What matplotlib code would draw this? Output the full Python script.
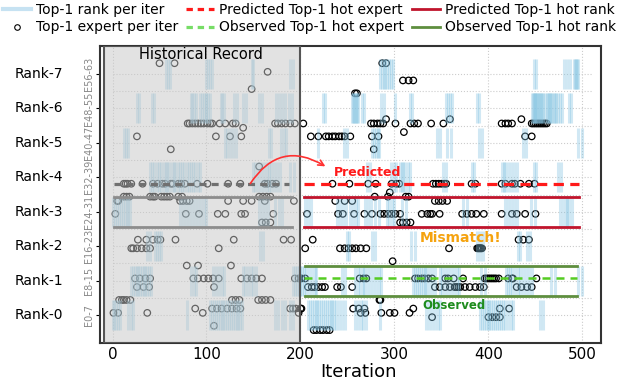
import matplotlib.pyplot as plt
from matplotlib.lines import Line2D
from matplotlib.patches import Rectangle

# top-1 expert per iteration: expert id and the iterations where it was top-1
expert_ids = [62, 60, 56, 58, 55, 49, 48, 47, 46, 45, 42, 38, 34, 32, 31, 30,
              27, 25, 21, 19, 16, 15, 12, 10, 7, 5, 4, 3, 1, 0]
expert_iters = [
    [50, 66, 287, 291],
    [165],
    [148],
    [309, 315, 320],
    [258, 260],
    [291, 359, 435],
    [80, 82, 85, 88, 91, 94, 97, 101, 104, 106, 114, 120, 128, 131, 173, 176, 180,
     184, 189, 194, 203, 275, 278, 282, 285, 288, 301, 317, 321, 325, 339, 352,
     414, 418, 421, 425, 446, 448, 450, 452, 454, 456, 458, 460, 462],
    [139],
    [310],
    [26, 110, 125, 137, 211, 219, 227, 230, 234, 237, 241, 244, 247, 253, 276, 283,
     439, 446],
    [62, 278],
    [156],
    [12, 14, 16, 20, 32, 43, 48, 53, 56, 62, 64, 70, 73, 77, 90, 101, 123, 136, 162,
     165, 170, 174, 234, 252, 272, 280, 297, 302, 305, 341, 344, 347, 350, 353, 355,
     382, 386, 414, 418, 425, 428, 434, 443, 449],
    [295],
    [12, 15, 18, 40, 43, 45, 52, 55, 58, 61, 70, 74, 156, 160, 164, 168, 279, 293,
     312, 315],
    [5, 6, 72, 75, 79, 82, 123, 139, 148, 162, 193, 237, 247, 255, 343, 347, 351, 356],
    [3, 78, 92, 112, 120, 137, 141, 171, 207, 240, 245, 257, 268, 276, 285, 289, 293,
     297, 301, 306, 329, 335, 338, 340, 348, 372, 377, 382, 387, 395, 414, 425, 430,
     439, 450],
    [159, 163, 168, 306, 309, 313, 317],
    [27, 36, 43, 48, 51, 67, 129, 182, 190, 213, 432, 437, 443],
    [20, 22, 26, 31, 36, 40, 113, 205, 242, 247, 251, 255, 259, 264, 270, 358, 388,
     389, 390, 391, 392, 393],
    [298],
    [79, 91, 126],
    [24, 29, 35, 40, 86, 91, 97, 102, 107, 113, 137, 143, 148, 153, 159, 194, 198,
     201, 205, 263, 267, 270, 322, 325, 329, 332, 336, 340, 354, 357, 363, 373, 396,
     398, 400, 402, 404, 406, 408, 411, 421, 425, 426, 451],
    [26, 33, 39, 108, 208, 212, 215, 219, 223, 226, 239, 243, 255, 343, 348, 354,
     359, 364, 366, 368, 370, 375, 380, 386, 391, 395, 430, 435, 441, 446],
    [7, 10, 12, 15, 19, 127, 131, 135, 155, 159, 163, 168, 284, 285],
    [88, 106, 111, 116, 122, 127, 132, 136, 189, 192, 195, 200, 201, 256, 262, 268,
     320, 412, 422],
    [1, 6, 37, 96, 198, 264, 269, 286, 295, 300, 316],
    [340, 400, 404, 408, 412],
    [108],
    [214, 217, 221, 224, 228, 231],
]

# top-1 rank per iteration (list index = rank)
rank_iters = [
    [0, 2, 4, 6, 8, 17, 20, 22, 79, 104, 106, 108, 110, 112, 114, 116, 118, 120, 122,
     124, 126, 128, 130, 132, 134, 136, 138, 173, 176, 180, 183, 189, 192, 208, 210,
     212, 214, 216, 218, 220, 222, 224, 226, 228, 230, 232, 234, 236, 238, 241, 244,
     247, 258, 261, 264, 267, 270, 285, 334, 337, 340, 343, 346, 348, 391, 393, 395,
     397, 399, 401, 403, 405, 407, 409, 411, 413, 415, 418, 421, 424, 426, 455, 458],
    [20, 22, 24, 26, 27, 29, 31, 33, 35, 37, 39, 41, 84, 87, 89, 107, 110, 113, 116,
     119, 139, 141, 144, 147, 150, 153, 192, 194, 196, 198, 200, 202, 204, 206, 209,
     212, 215, 217, 244, 247, 258, 261, 263, 266, 268, 271, 274, 277, 280, 283, 286,
     320, 322, 324, 326, 328, 330, 332, 334, 337, 340, 343, 348, 351, 354, 357, 360,
     363, 366, 369, 392, 396, 419, 421, 423, 425, 428, 431, 434, 437, 440, 443, 446,
     466, 471, 495, 499],
    [37, 40, 45, 47, 49, 52, 157, 160, 249, 252, 276, 279, 318, 322, 388, 391, 394,
     431, 433, 441, 444],
    [1, 3, 5, 7, 9, 11, 13, 15, 17, 19, 72, 75, 78, 81, 85, 88, 91, 94, 97, 100, 156,
     159, 162, 165, 173, 177, 180, 205, 208, 211, 239, 242, 245, 248, 253, 256, 259,
     261, 269, 272, 275, 279, 283, 292, 294, 297, 300, 308, 312, 373, 377, 418, 421,
     424, 427, 430, 445, 450, 476, 479, 482, 484, 486, 489],
    [40, 42, 44, 47, 49, 52, 55, 57, 58, 60, 63, 65, 67, 70, 72, 74, 76, 79, 81, 84,
     86, 88, 91, 93, 150, 152, 155, 158, 161, 164, 166, 169, 172, 175, 178, 189, 193,
     271, 274, 296, 299, 302, 306, 308, 309, 311, 314, 316, 352, 355, 382, 385, 414,
     416, 418, 421, 424, 427, 430, 448, 451, 474, 477],
    [12, 14, 16, 120, 122, 125, 128, 131, 166, 169, 179, 182, 185, 219, 246, 249, 276,
     278, 280, 282, 284, 345, 348, 356, 360, 390, 393, 437, 440, 495, 499],
    [26, 28, 42, 44, 83, 85, 87, 89, 93, 95, 97, 99, 100, 102, 104, 115, 117, 119,
     129, 132, 139, 142, 156, 159, 174, 177, 180, 184, 188, 191, 224, 226, 255, 256,
     257, 258, 259, 260, 261, 265, 268, 286, 289, 301, 317, 319, 355, 357, 359, 361,
     388, 390, 446, 447, 448, 449, 450, 451, 452, 453, 454, 455, 456, 457, 458, 460,
     462, 463, 464, 465, 466, 468, 470, 471, 472, 474, 476, 478, 486, 488],
    [57, 59, 61, 100, 102, 104, 106, 148, 150, 189, 192, 285, 287, 289, 290, 292, 294,
     296, 298, 448, 451, 480, 483, 487, 491, 492, 493, 494, 495],
]

hist_end = 200
pred_expert = 34
obs_expert = 12
pred_rank = 3
obs_rank = 1

rank_names = ['Rank-0', 'Rank-1', 'Rank-2', 'Rank-3', 'Rank-4', 'Rank-5', 'Rank-6', 'Rank-7']
expert_labels = ['E0-7', 'E8-15', 'E16-23', 'E24-31', 'E32-39', 'E40-47', 'E48-55', 'E56-63']
x_ticks = [0, 100, 200, 300, 400, 500]

plt.rcParams['font.family'] = 'DejaVu Sans'
fig = plt.figure(figsize=(6.22, 3.81), dpi=100)
ax = fig.add_axes([100 / 622, 1 - 343 / 381, 501 / 622, 297 / 381])

# light dotted grid
for y in [3.5 + 4 * k for k in range(15)]:
    ax.plot([0, 510], [y, y], color='#cccccc', ls=':', lw=0.8, zorder=1)
for x in x_ticks:
    ax.axvline(x, color='#cccccc', ls=':', lw=0.8, zorder=1)

# circles: top-1 expert per iter
for e, its in zip(expert_ids, expert_iters):
    ax.scatter(its, [e] * len(its), s=22, facecolors='none', edgecolors='black',
               linewidths=0.9, zorder=2)

# bars: top-1 rank per iter
for r, its in enumerate(rank_iters):
    ax.vlines(its, 8 * r, 8 * r + 7, colors='#86c5e3', alpha=0.38, lw=2.2, zorder=3)

# predicted / observed lines
ax.plot([204, 496], [pred_expert, pred_expert], color='#ff1a1a', lw=2.3,
        dashes=(3.2, 2.0), zorder=4)
ax.plot([204, 496], [8 * pred_rank, 8 * pred_rank], color='#c0142c', lw=2, zorder=4)
ax.plot([204, 496], [8 * pred_rank + 7, 8 * pred_rank + 7], color='#c0142c', lw=2, zorder=4)
ax.plot([204, 494], [obs_expert, obs_expert], color='#55cc22', lw=1.8,
        dashes=(3.2, 2.4), zorder=4)
ax.plot([205, 494], [8 * obs_rank, 8 * obs_rank], color='#5e8e3e', lw=2, zorder=4)
ax.plot([205, 494], [8 * obs_rank + 7, 8 * obs_rank + 7], color='#5e8e3e', lw=2, zorder=4)

# historical record shading
ax.add_patch(Rectangle((-9, -3), hist_end + 9, 69, facecolor=(0.78, 0.78, 0.78, 0.5),
                       edgecolor='#555555', lw=1.5, zorder=5))
ax.plot([2, 188], [pred_expert, pred_expert], color='#707070', lw=2.3,
        dashes=(2.2, 1.6), zorder=6)
ax.plot([2, 191], [8 * pred_rank, 8 * pred_rank], color='#8c8c8c', lw=2, zorder=6)
ax.plot([2, 191], [8 * pred_rank + 7, 8 * pred_rank + 7], color='#8c8c8c', lw=2, zorder=6)
ax.text(94, 64.1, 'Historical Record', ha='center', va='center', fontsize=10.5, zorder=7)

ax.annotate('', xy=(229, 37.7), xytext=(145, 33.5), zorder=7,
            arrowprops=dict(arrowstyle='->', color='#ff3030', lw=1.2,
                            connectionstyle='arc3,rad=-0.5'))
ax.text(271, 36.5, 'Predicted', color='#ff1a1a', fontweight='bold', fontsize=9,
        ha='center', va='center', zorder=7)
ax.text(370, 21.4, 'Mismatch!', color='#f5a30f', fontweight='bold', fontsize=10,
        ha='center', va='center', zorder=7)
ax.text(363, 5.6, 'Observed', color='#1e8c1e', fontweight='bold', fontsize=8.5,
        ha='center', va='center', zorder=7)

ax.set_xlim(-13.3, 519.7)
ax.set_ylim(-3, 66)
ax.set_xticks(x_ticks)
ax.tick_params(axis='x', length=0, labelsize=11, pad=3)
ax.set_yticks([8 * r + 3.5 for r in range(8)])
ax.set_yticklabels(expert_labels, rotation=90, va='center', fontsize=7, color='#888888')
ax.tick_params(axis='y', length=3, pad=1.5)
for r in range(8):
    ax.text(-0.17, 8 * r + 3.5, rank_names[r], transform=ax.get_yaxis_transform(),
            ha='left', va='center', fontsize=10)
ax.set_xlabel('Iteration', fontsize=13)
ax.xaxis.set_label_coords(0.515, -0.068)
for s in ax.spines.values():
    s.set_linewidth(1.5)
    s.set_color('#333333')

handles = [
    Line2D([], [], color='#c6e2f2', lw=3),
    Line2D([], [], ls='', marker='o', mfc='none', mec='black', ms=4, mew=0.8),
    Line2D([], [], color='#ff1a1a', lw=2.3, dashes=(2, 1.5)),
    Line2D([], [], color='#77dd66', lw=2.3, dashes=(2, 1.5)),
    Line2D([], [], color='#c0142c', lw=2),
    Line2D([], [], color='#5e8e3e', lw=2),
]
labels = ['Top-1 rank per iter', 'Top-1 expert per iter', 'Predicted Top-1 hot expert',
          'Observed Top-1 hot expert', 'Predicted Top-1 hot rank', 'Observed Top-1 hot rank']
fig.legend(handles, labels, loc='upper left', bbox_to_anchor=(0.003, 0.997), ncol=3,
           frameon=False, fontsize=10, handlelength=2.0, handletextpad=0.35,
           columnspacing=0.6, labelspacing=0.28, borderaxespad=0, borderpad=0.1)

fig.savefig('out.png', dpi=100)
